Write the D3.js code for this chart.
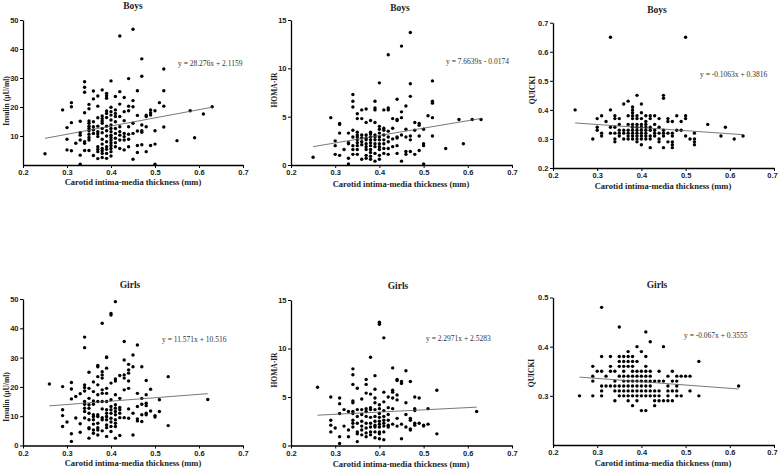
<!DOCTYPE html>
<html><head><meta charset="utf-8">
<script src="https://cdn.jsdelivr.net/npm/d3@7"></script>
<style>
html,body{margin:0;padding:0;background:#fff;}
svg{display:block;}
.tick text{font-family:"Liberation Sans",Arial,sans-serif;font-weight:bold;}
</style></head><body>
<svg id="c" width="778" height="471"></svg>
<script>
// ---------- DATA (x = carotid IMT in mm, grouped by column) ----------
const xTickValues = [0.2, 0.3, 0.4, 0.5, 0.6, 0.7];
const panelTitles = ["Boys", "Boys", "Boys", "Girls", "Girls", "Girls"];
const yLabels = ["Insulin (µU/ml)", "HOMA-IR", "QUICKI", "Insulin (µU/ml)", "HOMA-IR", "QUICKI"];
const equations = ["y = 28.276x + 2.1159", "y = 7.6639x - 0.0174", "y = -0.1063x + 0.3816",
                   "y = 11.571x + 10.516", "y = 2.2971x + 2.5283", "y = -0.067x + 0.3555"];
const slopes = [28.276, 7.6639, -0.1063, 11.571, 2.2971, -0.067];
const intercepts = [2.1159, -0.0174, 0.3816, 10.516, 2.5283, 0.3555];
const yDomains = [[0, 50], [0, 15], [0.2, 0.7], [0, 50], [0, 15], [0.2, 0.5]];
const yTickSets = [[10, 20, 30, 40, 50], [0, 5, 10, 15], [0.2, 0.3, 0.4, 0.5, 0.6, 0.7],
                   [0, 10, 20, 30, 40, 50], [0, 5, 10, 15], [0.3, 0.4, 0.5]];

const boysInsulin = [
 [0.25,[3.9]],[0.29,[19.0]],[0.30,[12.9,8.9,5.2]],[0.31,[21.5,20.1,14.6,4.9]],[0.32,[7.5]],
 [0.33,[15.1,11.1,10.3,8.6,3.4,0.3]],[0.34,[28.7,26.8,25.1,18,8,7.5,5]],
 [0.35,[20.9,19.4,15.2,14.4,13.4,12.6,11.8,10.6,9.5,8.6,5]],[0.36,[25.5,22.8,14.9,13.2,12.1,10.9,3.3]],
 [0.37,[23.8,20.3,16.3,13.4,11.5,10.7,9.8,6.3,5.4,4.6,2.2]],
 [0.38,[25.9,16.9,16.0,15.2,14.4,12.6,11.1,8.9,7.2,5.7,4.9,4,2.6]],
 [0.39,[24.7,23.9,23,18.6,17.8,16.4,13.4,11.8,10,8,6.3,5.4,4,2.3]],
 [0.40,[29,19.9,18.4,17.2,15.5,13.8,12.6,11.5,10.3,9.5,8.6,7.7,6.7,5.7,4.6,3.1]],
 [0.41,[23.6,19,17.8,16.7,14.9,12.6,10.9,9.2,7.7,6.3]],[0.42,[44.5,25.3,21,16.7,13.2,11.5,10.3,8.6,5.7]],
 [0.43,[23.3,18.4,15.3,10.9,9.8,8.6,5.2]],[0.44,[29.8,20.3,18.7,13.2,10.6,8.9,6.3]],
 [0.45,[46.8,22.2,20.1,14.4,10.9,2]],[0.46,[25.6,17.1,11.7,6.7,4.3]],[0.47,[36.6,30.6,13.8,11.8,11.3,7]],
 [0.48,[17.2,16.7,13.2,4.6]],[0.49,[19,18,17.2,6.7]],[0.50,[18.7,11.8,7.2,0.3]],[0.51,[21.5]],
 [0.52,[33.1,25.6,20.3,13.1]],[0.55,[8.4]],[0.58,[18.7]],[0.59,[9.4]],[0.61,[17.6]],[0.63,[20.1]]
];
const boysHoma = [
 [0.25,[0.8]],[0.29,[4.9]],[0.30,[2.5,2.0,1.1]],[0.31,[4.3,4.2,3.3,1.0]],[0.32,[1.6]],
 [0.33,[3.3,2.3,2.2,0.7,0.1]],[0.34,[7.3,6.6,6.0,3.6,2.9,2.0,1.6,1.1]],
 [0.35,[5.3,4.8,3.4,3.1,2.9,2.6,2.3,2.0,1.6,1.1]],[0.36,[5.7,4.8,3.1,2.8,2.4,2.1,0.6]],
 [0.37,[5.8,4.4,3.1,2.8,2.6,2.2,1.9,1.6,1.0,0.7]],[0.38,[4.6,3.4,3.2,2.9,2.6,2.3,2.0,1.6,1.3,0.9,0.6]],
 [0.39,[6.6,5.9,5.7,4.4,3.1,2.9,2.6,2.2,1.9,1.2,0.4]],[0.40,[8.5,4.0,3.7,3.3,2.9,2.6,2.2,1.9,1.6,1.0,0.6]],
 [0.41,[5.7,3.8,3.6,3.1,2.6,2.2,1.7,1.2]],[0.42,[11.4,5.9,5.7,3.5,2.9,2.4,1.7,1.1]],
 [0.43,[4.8,3.8,2.7,1.9]],[0.44,[6.8,4.7,4.6,2.9,2.8,2.0,1.2]],[0.45,[12.3,5.5,4.9,3.1,0.4]],
 [0.46,[6.1,3.7,2.9,1.4,1.1]],[0.47,[13.7,8.4,7.1,3.0,2.6,1.4]],[0.48,[4.4,3.6,1.1]],
 [0.49,[4.3,4.1,3.0,1.5]],[0.50,[3.7,2.2,2.0,0.1]],[0.51,[5.1]],[0.52,[8.7,6.6,6.4,4.9,3.0]],
 [0.55,[1.7]],[0.58,[4.7]],[0.59,[2.2]],[0.61,[4.7]],[0.63,[4.7]]
];
const boysQuicki = [
 [0.25,[0.40]],[0.29,[0.30]],[0.30,[0.37,0.34,0.33]],[0.31,[0.38,0.32,0.31]],[0.32,[0.36]],
 [0.33,[0.65,0.40,0.34,0.32]],[0.34,[0.38,0.37,0.34,0.32,0.30,0.29]],[0.35,[0.37,0.35,0.33,0.32,0.31]],
 [0.36,[0.42,0.33,0.32,0.30]],[0.37,[0.43,0.38,0.35,0.33,0.32,0.31,0.30]],
 [0.38,[0.41,0.40,0.39,0.38,0.37,0.35,0.34,0.33,0.32,0.31,0.30]],
 [0.39,[0.45,0.38,0.37,0.35,0.34,0.33,0.32,0.31,0.30,0.29]],
 [0.40,[0.42,0.39,0.37,0.35,0.34,0.33,0.32,0.31,0.30,0.28]],
 [0.41,[0.38,0.36,0.35,0.34,0.33,0.32,0.31,0.30]],[0.42,[0.38,0.37,0.34,0.33,0.31,0.30,0.27]],
 [0.43,[0.38,0.35,0.33,0.32,0.31]],[0.44,[0.37,0.34,0.32,0.30,0.29]],[0.45,[0.45,0.44,0.33,0.32,0.31,0.27]],
 [0.46,[0.37,0.36,0.32,0.29]],[0.47,[0.36,0.32,0.31,0.29,0.28,0.27]],[0.48,[0.38,0.33]],[0.49,[0.36,0.33]],
 [0.50,[0.65,0.38,0.37,0.31]],[0.51,[0.30]],[0.52,[0.32,0.30,0.29,0.28]],[0.55,[0.35]],[0.58,[0.31]],
 [0.59,[0.34]],[0.61,[0.30]],[0.63,[0.31]]
];
const girlsInsulin = [
 [0.26,[21.0]],[0.29,[20.1,12.2,10.2,6.5]],[0.30,[8.0]],[0.31,[21.5,19.3,15.9,4.0,1.4]],[0.32,[16.7,9.4]],
 [0.33,[17.7,7.4,4.5]],[0.34,[37.0,33.4,20.7,19.8,18.6,15.0,14.1,12.7,11.6,9.4]],
 [0.35,[25.0,19.5,16.1,13.9,12.7,11.0,8.8,6.1,5.7,2.5]],[0.36,[21.7,18.4,15.2,14.1,10.5,9.9,8.8,7.3,5.3,4.2]],
 [0.37,[27.3,26.9,23.5,20.7,17.3,15,10.5,9.9,7.6,6.1,5.3,3.6]],
 [0.38,[41.7,25.2,24.1,23.0,19.0,17.8,15.0,12.5,9.5,8.8,5.0]],
 [0.39,[30.2,30.0,26.4,19.5,17.8,15.0,12.2,11.0,9.9,8.8,7.0,6.1,3.1]],
 [0.40,[45.1,44.5,21.3,15.6,13.3,12.2,11.0,9.3,8.0,6.5,4.8]],
 [0.41,[49.1,22.7,22.0,17.3,13.9,12.7,11.6,10.5,8.8,7.6,6.5,2.5]],[0.42,[23.9,16.1,13.0,12.2,11.0,9.5,3.4]],
 [0.43,[35.5,29.2,24.1,23.0,19.0,9.5]],[0.44,[27.7,25.8,24.7,22.0,19.5,12.5,9.3]],[0.45,[30.9,26.9,11.0,3.6]],
 [0.46,[34.3,17.8,13.3,9.1,8.4]],[0.47,[26.9,16.1,14.1,10.5,8.2]],[0.48,[22.2,17.3,14.4,13.6,11.0,10.5]],
 [0.49,[19.2,11.8]],[0.50,[10.2,9.7]],[0.51,[15.6,11.6]],[0.53,[23.5,6.8]],[0.62,[15.7]]
];
const girlsHoma = [
 [0.26,[6.0]],[0.29,[5.0,2.6,2.1,1.4]],[0.30,[1.8]],[0.31,[4.9,4.3,3.3,0.9,0.2]],[0.32,[3.7,2.0]],
 [0.33,[3.5,1.6,0.9]],[0.34,[7.9,7.3,6.3,4.6,4.4,3.5,3.3,2.6,2.3,1.9]],[0.35,[5.9,3.7,3.0,2.3,1.4,1.2,0.4]],
 [0.36,[4.8,3.7,3.2,2.5,2.0,1.6,1.1]],[0.37,[6.8,6.3,5.4,3.8,3.5,3.0,2.3,1.8,1.3,0.9]],
 [0.38,[9.1,5.3,3.9,3.7,2.9,2.3,1.9,1.4,1.1]],[0.39,[7.2,5.8,4.9,4.4,3.7,3.0,2.5,2.1,1.9,1.4,0.8]],
 [0.40,[12.7,12.5,4.2,3.8,3.3,2.9,2.5,2.2,1.9,1.4,1.2,0.7]],[0.41,[11.1,5.5,4.5,3.6,3.0,2.6,2.3,2.0,1.4,0.6]],
 [0.42,[5.0,3.9,3.2,2.6,2.1,1.9]],[0.43,[8.0,5.7,5.5,4.9,3.8,2.2]],[0.44,[6.8,6.7,5.2,4.7,2.8,2.0]],
 [0.45,[6.6,6.4,2.2,0.7]],[0.46,[7.7,4.4,3.2,1.9]],[0.47,[6.6,2.8,2.6,1.7,1.6]],[0.48,[5.0,3.8,3.6,2.3,2.1]],
 [0.49,[4.9,2.3]],[0.50,[2.1,2.0]],[0.51,[3.8,2.2]],[0.53,[5.7,1.2]],[0.62,[3.5]]
];
const girlsQuicki = [
 [0.26,[0.30]],[0.29,[0.36,0.34,0.33,0.30]],[0.30,[0.35]],[0.31,[0.48,0.38,0.35,0.32,0.31,0.30]],
 [0.32,[0.34,0.32]],[0.33,[0.38,0.36,0.35,0.32]],[0.34,[0.35,0.33,0.32,0.31,0.29]],
 [0.35,[0.44,0.38,0.37,0.36,0.34,0.32,0.31,0.30]],[0.36,[0.38,0.37,0.36,0.35,0.34,0.33,0.32,0.31,0.30]],
 [0.37,[0.39,0.38,0.37,0.36,0.34,0.33,0.32,0.31,0.30,0.29]],
 [0.38,[0.38,0.37,0.36,0.35,0.34,0.33,0.32,0.31,0.30,0.28]],
 [0.39,[0.40,0.37,0.35,0.34,0.33,0.32,0.31,0.30,0.29]],[0.40,[0.39,0.35,0.34,0.33,0.32,0.31,0.30,0.27]],
 [0.41,[0.43,0.38,0.36,0.35,0.34,0.33,0.32,0.31,0.30,0.27]],[0.42,[0.41,0.35,0.34,0.33,0.32,0.31,0.30]],
 [0.43,[0.33,0.31,0.30,0.29,0.28]],[0.44,[0.35,0.33,0.31,0.30,0.29]],[0.45,[0.40,0.33,0.29]],
 [0.46,[0.34,0.32,0.31,0.30,0.29]],[0.47,[0.35,0.33,0.31,0.29]],[0.48,[0.34,0.33,0.32,0.31,0.30]],
 [0.49,[0.34,0.30]],[0.50,[0.34]],[0.51,[0.34,0.31]],[0.53,[0.37,0.30]],[0.62,[0.32]]
];
const panelData = [boysInsulin, boysHoma, boysQuicki, girlsInsulin, girlsHoma, girlsQuicki];

// ---------- LAYOUT ----------
const layout = [
 {x0:23, x1:243, yb:165, yt:20,  title:[133,8.5],  xl:[133,185], yl:[6.5,101], eq:[178,66]},
 {x0:291,x1:512, yb:165, yt:20,  title:[400,10.5], xl:[401,187], yl:[274,90], eq:[446,64]},
 {x0:553,x1:774, yb:168, yt:22.7,title:[657,13],   xl:[663,189], yl:[532.5,90], eq:[700,77]},
 {x0:23, x1:243, yb:445.5,yt:299,title:[130,287.5],xl:[133,466], yl:[6.5,397], eq:[162,342]},
 {x0:291,x1:512, yb:445.5,yt:300,title:[398,288.5],xl:[401,467], yl:[274,370], eq:[426,341]},
 {x0:553,x1:774, yb:445, yt:297.5,title:[657,288],xl:[663,466], yl:[531,373], eq:[684,338]}
];

const svg = d3.select("#c");
const serif = "'Liberation Serif','Times New Roman',serif";

layout.forEach((L, i) => {
  const x = d3.scaleLinear().domain([0.2, 0.7]).range([L.x0, L.x1]);
  const y = d3.scaleLinear().domain(yDomains[i]).range([L.yb, L.yt]);
  const g = svg.append("g");
  const pts = panelData[i].flatMap(([xv, ys]) => ys.map(v => [xv, v]));
  const fmt = i % 3 === 2 ? d3.format(".1f") : d3.format("d");

  // axes
  const xa = g.append("g").attr("transform", `translate(0,${L.yb})`)
    .call(d3.axisBottom(x).tickValues(xTickValues).tickFormat(d3.format(".1f")).tickSize(3).tickPadding(2).tickSizeOuter(0));
  const ya = g.append("g").attr("transform", `translate(${L.x0},0)`)
    .call(d3.axisLeft(y).tickValues(yTickSets[i]).tickFormat(fmt).tickSize(3).tickPadding(1.5).tickSizeOuter(0));
  [xa, ya].forEach(a => {
    a.select(".domain").attr("stroke", "#000").attr("stroke-width", 1.3);
    a.selectAll(".tick line").attr("stroke", "#000").attr("stroke-width", 1);
    a.selectAll(".tick text").attr("font-size", 7.5).attr("fill", "#222");
  });
  // keep the last x label inside the window at the right edge
  if (i % 3 === 2) xa.selectAll(".tick text").filter(d => d === 0.7).attr("dx", -2);

  // points
  g.append("g").selectAll("circle").data(pts).join("circle")
    .attr("cx", d => x(d[0])).attr("cy", d => y(d[1])).attr("r", 1.7).attr("fill", "#000");

  // regression line
  const xs = d3.extent(pts, d => d[0]);
  g.append("line")
    .attr("x1", x(xs[0])).attr("y1", y(slopes[i] * xs[0] + intercepts[i]))
    .attr("x2", x(xs[1])).attr("y2", y(slopes[i] * xs[1] + intercepts[i]))
    .attr("stroke", "#555").attr("stroke-width", 0.8);

  // texts
  g.append("text").attr("x", L.title[0]).attr("y", L.title[1]).attr("text-anchor", "middle")
    .attr("font-family", serif).attr("font-weight", "bold").attr("font-size", 9.5).attr("fill", "#222").text(panelTitles[i]);
  g.append("text").attr("x", L.xl[0]).attr("y", L.xl[1]).attr("text-anchor", "middle")
    .attr("font-family", serif).attr("font-weight", "bold").attr("font-size", 8.5).attr("fill", "#222")
    .text("Carotid intima-media thickness (mm)");
  g.append("text").attr("transform", `translate(${L.yl[0]},${L.yl[1]}) rotate(-90)`).attr("text-anchor", "middle")
    .attr("dy", "0.35em").attr("font-family", serif).attr("font-weight", "bold").attr("font-size", 7.5).attr("fill", "#222")
    .text(yLabels[i]);
  g.append("text").attr("x", L.eq[0]).attr("y", L.eq[1])
    .attr("font-family", serif).attr("font-size", 7.5).attr("fill", "#333").text(equations[i]);
});
</script>
</body></html>
